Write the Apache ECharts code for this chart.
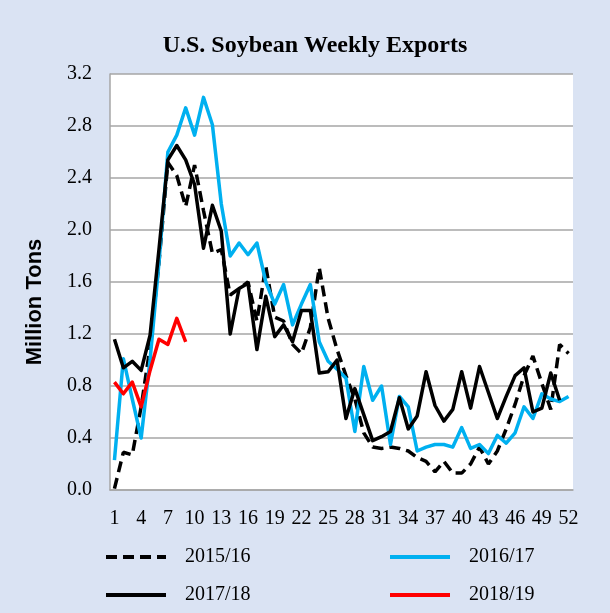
<!DOCTYPE html>
<html>
<head>
<meta charset="utf-8">
<script src="https://cdn.jsdelivr.net/npm/echarts@6/dist/echarts.min.js"></script>
<style>
  html, body { margin: 0; padding: 0; background: #dae3f3; }
  #chart { width: 610px; height: 613px; }
</style>
</head>
<body>
<div id="chart"></div>
<script>
// week numbers on the x axis
const weeks = ['1','2','3','4','5','6','7','8','9','10','11','12','13','14','15','16','17','18','19','20',
  '21','22','23','24','25','26','27','28','29','30','31','32','33','34','35','36','37','38','39','40',
  '41','42','43','44','45','46','47','48','49','50','51','52']

// weekly exports, million tons
const exports1516 = [0.01, 0.29, 0.27, 0.64, 1.10, 1.75, 2.52, 2.42, 2.18, 2.50,
  2.15, 1.82, 1.85, 1.50, 1.55, 1.60, 1.30, 1.72, 1.33, 1.30,
  1.12, 1.05, 1.25, 1.71, 1.32, 1.08, 0.88, 0.70, 0.44, 0.33,
  0.32, 0.33, 0.32, 0.30, 0.25, 0.22, 0.14, 0.22, 0.13, 0.13,
  0.20, 0.33, 0.20, 0.30, 0.47, 0.66, 0.88, 1.03, 0.82, 0.62,
  1.12, 1.05]
const exports1617 = [0.23, 1.01, 0.70, 0.40, 1.00, 1.75, 2.60, 2.73, 2.94, 2.73,
  3.02, 2.81, 2.20, 1.80, 1.90, 1.81, 1.90, 1.60, 1.43, 1.58,
  1.27, 1.43, 1.58, 1.14, 0.99, 0.93, 0.86, 0.45, 0.95, 0.69,
  0.80, 0.35, 0.72, 0.64, 0.30, 0.33, 0.35, 0.35, 0.33, 0.48,
  0.32, 0.35, 0.28, 0.42, 0.36, 0.44, 0.64, 0.55, 0.74, 0.70,
  0.68, 0.72]
const exports1718 = [1.16, 0.94, 0.99, 0.92, 1.19, 1.85, 2.54, 2.65, 2.54, 2.35,
  1.86, 2.19, 1.99, 1.20, 1.55, 1.59, 1.08, 1.49, 1.18, 1.27,
  1.14, 1.38, 1.38, 0.90, 0.91, 1.00, 0.55, 0.78, 0.58, 0.38,
  0.41, 0.45, 0.71, 0.47, 0.57, 0.91, 0.65, 0.53, 0.62, 0.91,
  0.63, 0.95, 0.75, 0.55, 0.72, 0.88, 0.94, 0.60, 0.63, 0.90,
  0.69]
const exports1819 = [0.83, 0.74, 0.83, 0.64, 0.92, 1.16, 1.12, 1.32, 1.14]

const yTicks = { min: 0, max: 3.2, step: 0.4 }

const chart = echarts.init(document.getElementById('chart'))

const serif = '"Liberation Serif", "Times New Roman", serif'

// shared legend look, one legend block per entry so they can sit in a 2x2 layout
// itemStyle opacity 0 hides the round marker, the line part stays
const legendBase = {
  orient: 'horizontal',
  padding: 0,
  itemWidth: 60,
  itemHeight: 20,
  selectedMode: false,
  itemStyle: { opacity: 0 },
  lineStyle: { width: 4 },
  textStyle: {
    fontFamily: serif,
    fontSize: 20,
    color: '#000',
    padding: [0, 0, 0, 14]
  }
}

const option = {
  backgroundColor: '#dae3f3',
  animation: false,
  title: {
    text: 'U.S. Soybean Weekly Exports',
    left: 310,
    textAlign: 'center',
    top: 29,
    textStyle: {
      fontFamily: serif,
      fontWeight: 'bold',
      fontSize: 24,
      color: '#000'
    }
  },
  legend: [
    { ...legendBase, data: ['2015/16'], left: 104, top: 547 },
    { ...legendBase, data: ['2016/17'], left: 388, top: 547 },
    { ...legendBase, data: ['2017/18'], left: 104, top: 585 },
    { ...legendBase, data: ['2018/19'], left: 388, top: 585 }
  ],
  grid: {
    left: 110,
    right: 37,
    top: 74,
    bottom: 123,
    show: true,
    backgroundColor: '#ffffff',
    borderWidth: 0
  },
  xAxis: {
    type: 'category',
    data: weeks,
    boundaryGap: true,
    axisLine: { lineStyle: { color: '#a6a6a6', width: 1.5 } },
    axisTick: { show: false },
    axisLabel: {
      interval: 2,
      margin: 19,
      fontFamily: serif,
      fontSize: 20,
      color: '#000'
    }
  },
  yAxis: {
    type: 'value',
    min: yTicks.min,
    max: yTicks.max,
    interval: yTicks.step,
    name: 'Million Tons',
    nameLocation: 'middle',
    nameGap: 64,
    nameRotate: 90,
    nameTextStyle: {
      fontFamily: '"Liberation Sans", Arial, sans-serif',
      fontWeight: 'bold',
      fontSize: 22,
      color: '#000',
      padding: [0, 40, 0, 0]
    },
    axisLine: { show: true, lineStyle: { color: '#a6a6a6', width: 1.5 } },
    axisTick: { show: false },
    axisLabel: {
      margin: 18,
      fontFamily: serif,
      fontSize: 20,
      color: '#000',
      formatter: (v) => v.toFixed(1)
    },
    splitLine: { lineStyle: { color: '#a6a6a6', width: 1.5 } }
  },
  series: [
    {
      name: '2015/16',
      type: 'line',
      data: exports1516,
      symbol: 'none',
      lineStyle: { color: '#000000', width: 3.5, type: [11, 6] },
      itemStyle: { color: '#000000' }
    },
    {
      name: '2016/17',
      type: 'line',
      data: exports1617,
      symbol: 'none',
      lineStyle: { color: '#00b0f0', width: 3.5, join: 'round' },
      itemStyle: { color: '#00b0f0' }
    },
    {
      name: '2017/18',
      type: 'line',
      data: exports1718,
      symbol: 'none',
      lineStyle: { color: '#000000', width: 3.5, join: 'round' },
      itemStyle: { color: '#000000' }
    },
    {
      name: '2018/19',
      type: 'line',
      data: exports1819,
      symbol: 'none',
      lineStyle: { color: '#ff0000', width: 3.5, join: 'round' },
      itemStyle: { color: '#ff0000' }
    }
  ]
}

chart.setOption(option)
</script>
</body>
</html>
